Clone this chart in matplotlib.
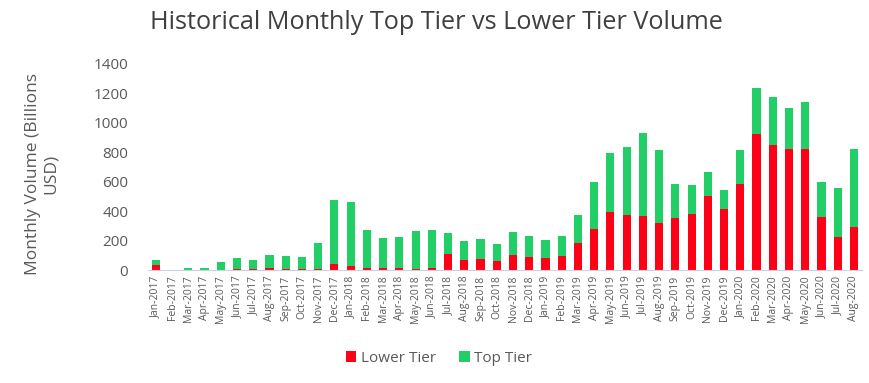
import matplotlib
matplotlib.use("Agg")
import matplotlib.pyplot as plt
import numpy as np

plt.rcParams['font.family'] = ['Open Sans', 'DejaVu Sans']

months = ['Jan-2017', 'Feb-2017', 'Mar-2017', 'Apr-2017', 'May-2017', 'Jun-2017',
          'Jul-2017', 'Aug-2017', 'Sep-2017', 'Oct-2017', 'Nov-2017', 'Dec-2017',
          'Jan-2018', 'Feb-2018', 'Mar-2018', 'Apr-2018', 'May-2018', 'Jun-2018',
          'Jul-2018', 'Aug-2018', 'Sep-2018', 'Oct-2018', 'Nov-2018', 'Dec-2018',
          'Jan-2019', 'Feb-2019', 'Mar-2019', 'Apr-2019', 'May-2019', 'Jun-2019',
          'Jul-2019', 'Aug-2019', 'Sep-2019', 'Oct-2019', 'Nov-2019', 'Dec-2019',
          'Jan-2020', 'Feb-2020', 'Mar-2020', 'Apr-2020', 'May-2020', 'Jun-2020',
          'Jul-2020', 'Aug-2020']

# lower tier volume (billions USD)
lower_tier = [35, 1, 1, 1, 3, 10, 8, 12, 10, 5, 8, 41,
              27, 15, 12, 12, 10, 15, 106, 68, 75, 61, 104, 86,
              79, 95, 181, 278, 391, 373, 366, 317, 355, 380, 504, 411,
              583, 922, 845, 820, 820, 359, 224, 292]

# total monthly volume, top tier = total - lower
total = [68, 2, 12, 12, 56, 79, 68, 102, 95, 86, 185, 475,
         459, 271, 215, 222, 264, 271, 253, 197, 210, 178, 258, 231,
         203, 231, 373, 597, 795, 834, 927, 814, 583, 576, 664, 540,
         814, 1232, 1175, 1098, 1139, 597, 558, 820]

top_tier = [t - l for t, l in zip(total, lower_tier)]

red = '#FF0017'
green = '#21CF66'
txt = '#595959'

fig = plt.figure(figsize=(8.69, 3.83), dpi=100)
ax = fig.add_axes([0.170, 0.295, 0.822, 0.539])

x = np.arange(len(months))
ax.bar(x, lower_tier, width=0.5, color=red, label='Lower Tier')
ax.bar(x, top_tier, width=0.5, bottom=lower_tier, color=green, label='Top Tier')

ax.set_xlim(-0.5, len(months) - 0.5)
ax.set_ylim(0, 1400)
ax.set_yticks(range(0, 1401, 200))
ax.set_xticks(x)
ax.set_xticklabels(months, rotation=90, fontsize=7.5, color=txt)
ax.tick_params(axis='y', labelsize=11, labelcolor=txt, length=0, pad=14)
ax.tick_params(axis='x', length=0, pad=4)

for s in ['top', 'right', 'left']:
    ax.spines[s].set_visible(False)
ax.spines['bottom'].set_color('#C9D3E0')

fig.suptitle('Historical Monthly Top Tier vs Lower Tier Volume', x=0.502, y=0.975,
             fontsize=18.2, color='#404040')
fig.text(0.048, 0.545, 'Monthly Volume (Billions\nUSD)', rotation=90, ha='center',
         va='center', fontsize=12.5, color=txt, multialignment='center')

fig.legend(loc='center', bbox_to_anchor=(0.505, 0.065), ncol=2, frameon=False,
           fontsize=11, handlelength=0.7, handleheight=0.7, handletextpad=0.3,
           columnspacing=1.5, labelcolor=txt)

fig.savefig('out.png', dpi=100)
